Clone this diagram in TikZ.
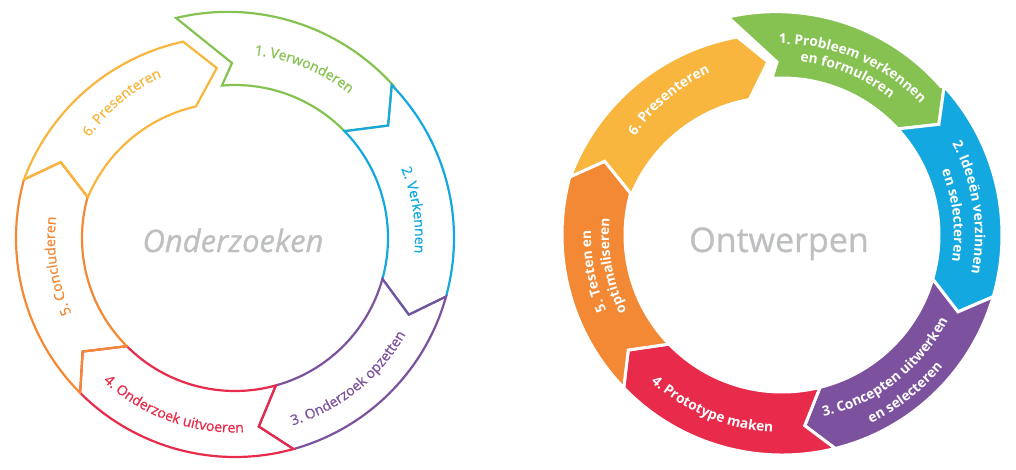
\documentclass[tikz,border=0pt]{standalone}
\usepackage{fontspec}
\setmainfont{Open Sans}
\newfontfamily\heavierfam[FakeBold=0.9]{Open Sans}
\usetikzlibrary{decorations.text,calc}
\definecolor{cgreen}{RGB}{134,194,82}
\definecolor{cblue}{RGB}{20,168,224}
\definecolor{cpurple}{RGB}{124,81,158}
\definecolor{cred}{RGB}{232,42,75}
\definecolor{corange}{RGB}{243,137,52}
\definecolor{cyellow}{RGB}{249,182,62}
\definecolor{cgray}{RGB}{190,191,193}
\newcommand\lfont{\heavierfam\fontsize{14}{16}\selectfont}
\newcommand\rfont{\fontsize{13.7}{16}\selectfont\bfseries}
% clockwise label (tops outward)
\newcommand\cwlabel[5]{%
  \path[decorate,decoration={text along path,text={|#2|#5},text align=center,text color=#1}]
    ({#3+40}:#4) arc[start angle={#3+40},end angle={#3-40},radius=#4];}
% counter-clockwise label (tops inward)
\newcommand\ccwlabel[5]{%
  \path[decorate,decoration={text along path,text={|#2|#5},text align=center,text color=#1}]
    ({#3-40}:#4) arc[start angle={#3-40},end angle={#3+40},radius=#4];}
\begin{document}
\begin{tikzpicture}[x=1pt,y=1pt,
  outl/.style={line width=2.2pt,line join=miter},
  filled/.style={draw=white,line width=3pt,line join=miter},
  centertext/.style={text=cgray,anchor=base,inner sep=0pt}]
\useasboundingbox (0,-469) rectangle (1016,0);

% ================= LEFT: Onderzoeken =================
\begin{scope}[shift={(235,-238)}]
  % 1 green
  \draw[outl,cgreen] (-59,220) arc[start angle=103.5,end angle=42.1,radius=222.5]
    -- (44.3:219) -- (36.3:190) -- (44.3:153) arc[start angle=44.3,end angle=94.9,radius=153]
    -- (-3,175) -- cycle;
  % 2 blue
  \draw[outl,cblue] (44.3:219) arc[start angle=44.3,end angle=-15.5,radius=219]
    -- (-23.8:190) -- (-15.5:153) arc[start angle=-15.5,end angle=44.3,radius=153]
    -- (36.3:190) -- cycle;
  % 3 purple
  \draw[outl,cpurple] (-15.5:219) arc[start angle=-15.5,end angle=-74.5,radius=219]
    -- (-82.8:190) -- (-74.5:153) arc[start angle=-74.5,end angle=-15.5,radius=153]
    -- (-23.8:190) -- cycle;
  % 4 red
  \draw[outl,cred] (-74.5:219) arc[start angle=-74.5,end angle=-135,radius=219]
    -- (-143.3:190) -- (-135:153) arc[start angle=-135,end angle=-74.5,radius=153]
    -- (-82.8:190) -- cycle;
  % 5 orange
  \draw[outl,corange] (225:219) arc[start angle=225,end angle=164.5,radius=219]
    -- (156.5:190) -- (164.5:153) arc[start angle=164.5,end angle=225,radius=153]
    -- (216.7:190) -- cycle;
  % 6 yellow (slightly displaced)
  \begin{scope}[shift={(-5,-18.6)}]
    \draw[outl,cyellow] (159.5:220) arc[start angle=159.5,end angle=102.3,radius=220]
      -- (94:189) -- (102.8:154) arc[start angle=102.8,end angle=157.3,radius=154]
      -- (150.8:193.8) -- cycle;
  \end{scope}
  % labels
  \cwlabel{cgreen}{\lfont}{67.8}{184}{1. Verwonderen}
  \cwlabel{cblue}{\lfont}{8.9}{180}{2. Verkennen}
  \ccwlabel{cpurple}{\lfont}{-51.2}{196}{3. Onderzoek opzetten}
  \ccwlabel{cred}{\lfont}{-110}{194.5}{4. Onderzoek uitvoeren}
  \cwlabel{corange}{\lfont}{189}{180}{5. Concluderen}
  \cwlabel{cyellow}{\lfont}{129.9}{177}{6. Presenteren}
\end{scope}
\node[centertext,font=\heavierfam\fontsize{31}{31}\selectfont\itshape] (ctrL) at (233,-252) {Onderzoeken};

% ================= RIGHT: Ontwerpen =================
\begin{scope}[shift={(782,-235)}]
  % 1 green
  \draw[filled,fill=cgreen] (-54,218) arc[start angle=102.7,end angle=41.2,radius=218.8]
    -- (42.5:220) -- (35.2:192) -- (42.5:157) arc[start angle=42.5,end angle=93.7,radius=157]
    -- (-5,173) -- cycle;
  % 2 blue
  \draw[filled,fill=cblue] (42.5:220) arc[start angle=42.5,end angle=-16.3,radius=220]
    -- (-23.6:192) -- (-16.3:157) arc[start angle=-16.3,end angle=42.5,radius=157]
    -- (35.2:192) -- cycle;
  % 3 purple
  \draw[filled,fill=cpurple] (-16.3:220) arc[start angle=-16.3,end angle=-76,radius=220]
    -- (-83.2:192) -- (-76:157) arc[start angle=-76,end angle=-16.3,radius=157]
    -- (-23.6:192) -- cycle;
  % 4 red
  \draw[filled,fill=cred] (-76:220) arc[start angle=-76,end angle=-136,radius=220]
    -- (-143.2:192) -- (-136:157) arc[start angle=-136,end angle=-76,radius=157]
    -- (-83.2:192) -- cycle;
  % 5 orange
  \draw[filled,fill=corange] (224:220) arc[start angle=224,end angle=164.6,radius=220]
    -- (157.4:192) -- (164.6:157) arc[start angle=164.6,end angle=224,radius=157]
    -- (216.8:192) -- cycle;
  % 6 yellow (slightly displaced)
  \begin{scope}[shift={(-5,-18.6)}]
    \draw[filled,fill=cyellow] (159.6:220.5) arc[start angle=159.6,end angle=100.3,radius=220]
      -- (92.7:192) -- (100.2:156.5) arc[start angle=100.2,end angle=157.6,radius=157.5]
      -- (151.8:195.5) -- cycle;
  \end{scope}
  % labels
  \cwlabel{white}{\rfont}{67.2}{191}{1. Probleem verkennen}
  \cwlabel{white}{\rfont}{67.8}{174}{en formuleren}
  \cwlabel{white}{\rfont}{8.35}{193}{2. Ideeën verzinnen}
  \cwlabel{white}{\rfont}{6.65}{172}{en selecteren}
  \ccwlabel{white}{\rfont}{-52.15}{186.5}{3. Concepten uitwerken}
  \ccwlabel{white}{\rfont}{-52}{208}{en selecteren}
  \ccwlabel{white}{\rfont}{-112.2}{197}{4. Prototype maken}
  \cwlabel{white}{\rfont}{190.9}{191}{5. Testen en}
  \cwlabel{white}{\rfont}{190.3}{173}{optimaliseren}
  \cwlabel{white}{\rfont}{130}{177}{6. Presenteren}
\end{scope}
\node[centertext,font=\heavierfam\fontsize{34}{34}\selectfont] (ctrR) at (779,-252) {Ontwerpen};
\end{tikzpicture}
\end{document}
